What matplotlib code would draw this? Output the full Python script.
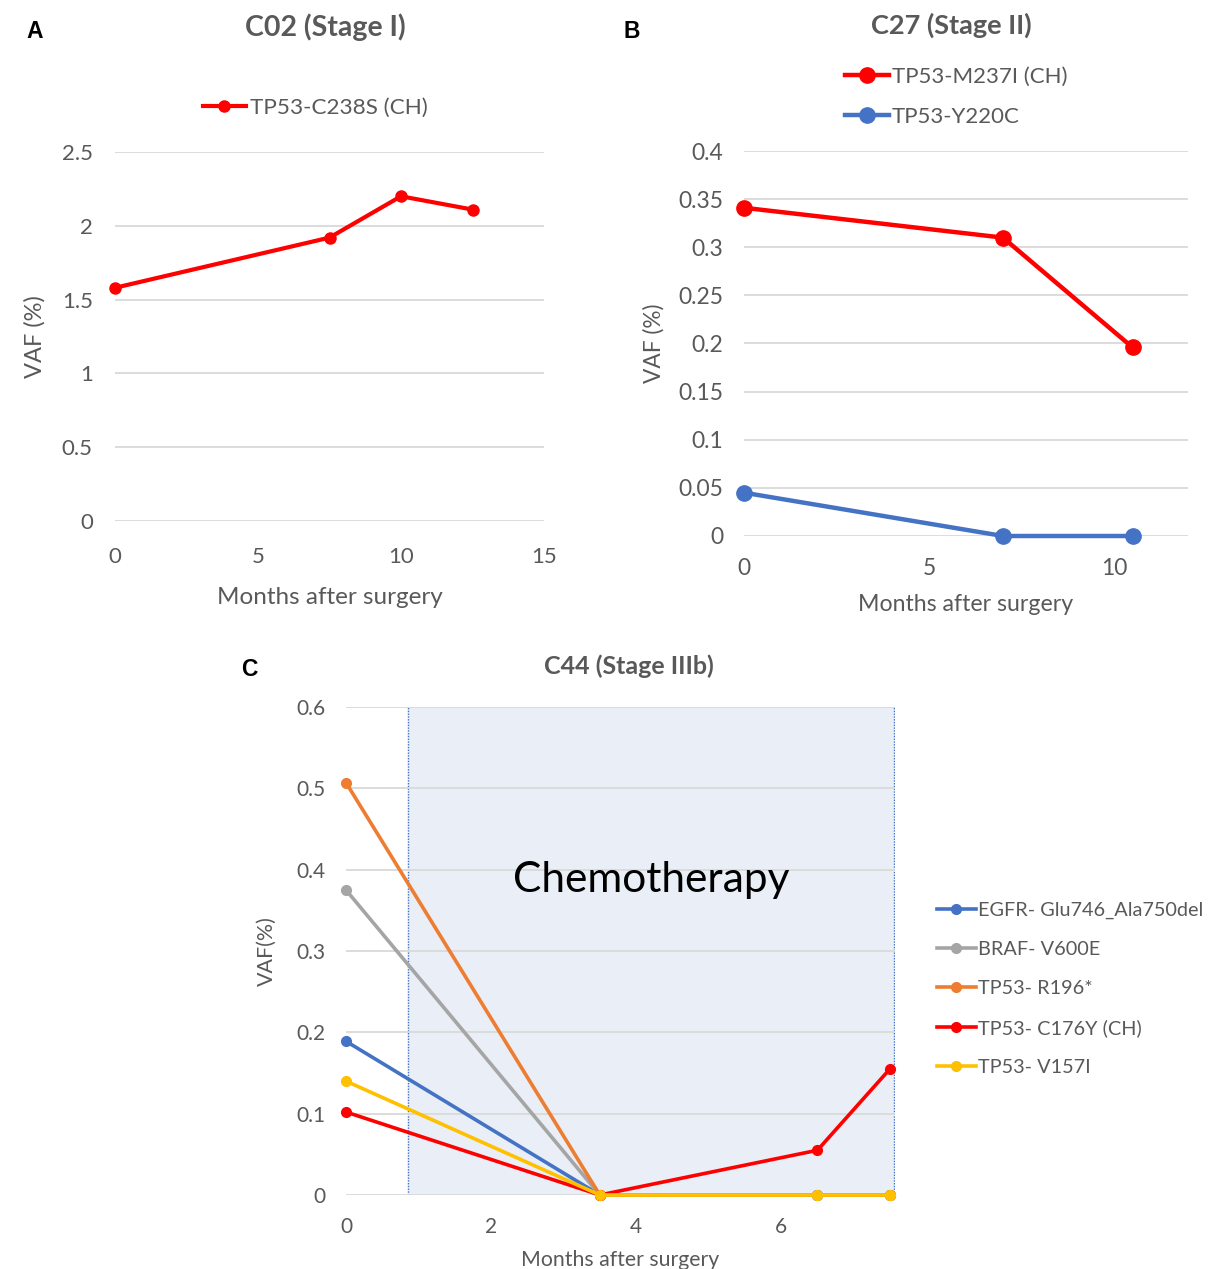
import matplotlib
matplotlib.use("Agg")
from matplotlib import pyplot as plt

plt.rcParams['font.family'] = ['Lato', 'DejaVu Sans']

# Panel A data
a_months = [0, 7.5, 10, 12.5]
a_vaf = [1.58, 1.92, 2.20, 2.11]
a_label = 'TP53-C238S (CH)'
a_xticks = [0, 5, 10, 15]
a_yticks = [0, 0.5, 1, 1.5, 2, 2.5]
a_yticklabels = ['0', '0.5', '1', '1.5', '2', '2.5']

# Panel B data
b_months = [0, 7, 10.5]
b_m237i = [0.341, 0.310, 0.196]
b_y220c = [0.045, 0.0, 0.0]
b_labels = ['TP53-M237I (CH)', 'TP53-Y220C']
b_xticks = [0, 5, 10]
b_yticks = [0, 0.05, 0.1, 0.15, 0.2, 0.25, 0.3, 0.35, 0.4]
b_yticklabels = ['0', '0.05', '0.1', '0.15', '0.2', '0.25', '0.3', '0.35', '0.4']

# Panel C data
c_months = [0, 3.5, 6.5, 7.5]
c_egfr = [0.189, 0.0, 0.0, 0.0]
c_braf = [0.375, 0.0, 0.0, 0.0]
c_r196 = [0.507, 0.0, 0.0, 0.0]
c_c176y = [0.102, 0.0, 0.055, 0.155]
c_v157i = [0.140, 0.0, 0.0, 0.0]
c_labels = ['EGFR- Glu746_Ala750del', 'BRAF- V600E', 'TP53- R196*',
            'TP53- C176Y (CH)', 'TP53- V157I']
c_chemo = [0.855, 7.56]
c_xticks = [0, 2, 4, 6]
c_yticks = [0, 0.1, 0.2, 0.3, 0.4, 0.5, 0.6]
c_yticklabels = ['0', '0.1', '0.2', '0.3', '0.4', '0.5', '0.6']

TXT = '#595959'
GRID = '#D9D9D9'
RED = '#FF0000'
BLUE = '#4472C4'
GRAY = '#A5A5A5'
ORANGE = '#ED7D31'
YELLOW = '#FFC000'

W, H = 1210, 1269
fig = plt.figure(figsize=(W / 100, H / 100), dpi=100)


def px_axes(x0, x1, y_top, y_bot):
    return fig.add_axes([x0 / W, 1 - y_bot / H, (x1 - x0) / W, (y_bot - y_top) / H])


def style(ax, fs, xpad, ypad):
    for s in ax.spines.values():
        s.set_visible(False)
    ax.set_axisbelow(True)
    ax.grid(axis='y', color=GRID, lw=1.3)
    ax.tick_params(length=0, labelsize=fs, labelcolor=TXT)
    ax.tick_params(axis='x', pad=xpad)
    ax.tick_params(axis='y', pad=ypad)


# ---- A ----
axA = px_axes(115, 544, 152, 521)
axA.plot(a_months, a_vaf, color=RED, lw=3, marker='o', ms=8, clip_on=False, label=a_label)
axA.set_xlim(0, 15)
axA.set_ylim(0, 2.5)
axA.set_xticks(a_xticks)
axA.set_yticks(a_yticks)
axA.set_yticklabels(a_yticklabels)
style(axA, 16, 19, 16)
axA.set_xlabel('Months after surgery', fontsize=17.5, color=TXT, labelpad=14)
axA.set_ylabel('VAF (%)', fontsize=17, color=TXT, labelpad=12)
axA.legend(loc='center', bbox_to_anchor=(315 / W, 1 - 108 / H), bbox_transform=fig.transFigure,
           frameon=False, fontsize=16.2, labelcolor=TXT, handlelength=1.95, handletextpad=0.15)
fig.text(325 / W, 1 - 27 / H, 'C02 (Stage I)', ha='center', va='center',
         fontsize=20.5, fontweight='bold', color=TXT)
fig.text(35 / W, 1 - 31 / H, 'A', ha='center', va='center', fontsize=16.5,
         fontweight='bold', family='Liberation Sans')

# ---- B ----
axB = px_axes(744, 1188, 151, 536)
axB.plot(b_months, b_m237i, color=RED, lw=3.2, marker='o', ms=11, clip_on=False, label=b_labels[0])
axB.plot(b_months, b_y220c, color=BLUE, lw=3.2, marker='o', ms=11, clip_on=False, label=b_labels[1])
axB.set_xlim(0, 12)
axB.set_ylim(0, 0.4)
axB.set_xticks(b_xticks)
axB.set_yticks(b_yticks)
axB.set_yticklabels(b_yticklabels)
style(axB, 16.5, 16, 15)
axB.set_xlabel('Months after surgery', fontsize=16.7, color=TXT, labelpad=11)
axB.set_ylabel('VAF (%)', fontsize=16.3, color=TXT, labelpad=10)
axB.legend(loc='center', bbox_to_anchor=(956 / W, 1 - 97 / H), bbox_transform=fig.transFigure,
           frameon=False, fontsize=16, labelcolor=TXT, handlelength=2.0, handletextpad=0.12,
           labelspacing=0.9)
fig.text(951 / W, 1 - 25 / H, 'C27 (Stage II)', ha='center', va='center',
         fontsize=19.5, fontweight='bold', color=TXT)
fig.text(632 / W, 1 - 31 / H, 'B', ha='center', va='center', fontsize=16.5,
         fontweight='bold', family='Liberation Sans')

# ---- C ----
axC = px_axes(346, 895, 707, 1195)
axC.axvspan(c_chemo[0], c_chemo[1], color='#E9EEF7', zorder=0.2)
for xv in c_chemo:
    axC.axvline(xv, color=BLUE, lw=1, ls=(0, (1, 1)), zorder=0.3)
series = [(c_egfr, BLUE), (c_braf, GRAY), (c_r196, ORANGE), (c_c176y, RED), (c_v157i, YELLOW)]
for (vals, col), lab in zip(series, c_labels):
    axC.plot(c_months, vals, color=col, lw=2.6, marker='o', ms=7, clip_on=False, label=lab)
axC.set_xlim(0, 7.57)
axC.set_ylim(0, 0.6)
axC.set_xticks(c_xticks)
axC.set_yticks(c_yticks)
axC.set_yticklabels(c_yticklabels)
style(axC, 15, 16, 15)
axC.set_xlabel('Months after surgery', fontsize=15.3, color=TXT, labelpad=9)
axC.set_ylabel('VAF(%)', fontsize=15.4, color=TXT, labelpad=14)
axC.text(4.21, 0.387, 'Chemotherapy', ha='center', va='center', fontsize=30.5, color='black')
axC.legend(loc='center left', bbox_to_anchor=(919 / W, 1 - 989 / H), bbox_transform=fig.transFigure,
           frameon=False, fontsize=14.3, labelcolor=TXT, handlelength=1.95, handletextpad=0.1,
           labelspacing=1.1)
fig.text(629 / W, 1 - 666 / H, 'C44 (Stage IIIb)', ha='center', va='center',
         fontsize=18, fontweight='bold', color=TXT)
fig.text(249 / W, 1 - 669 / H, 'C', ha='center', va='center', fontsize=16.5,
         fontweight='bold', family='Liberation Sans')

fig.savefig('out.png', dpi=100)
